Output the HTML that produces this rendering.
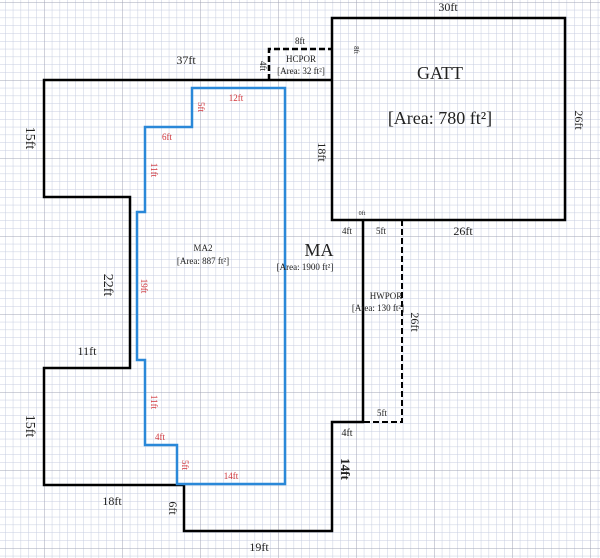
<!DOCTYPE html>
<html><head><style>
html,body{margin:0;padding:0;background:#fff;}
svg{display:block;font-family:"Liberation Serif",serif;}
</style></head><body>
<svg width="600" height="558" viewBox="0 0 600 558" xmlns="http://www.w3.org/2000/svg">
<defs>
<pattern id="mi" x="5" y="2" width="7.8" height="7.8" patternUnits="userSpaceOnUse">
<path d="M0 0H7.8M0 0V7.8" stroke="#c6cde0" stroke-width="1" fill="none"/>
</pattern>
<pattern id="ma" x="44" y="2" width="78" height="78" patternUnits="userSpaceOnUse">
<path d="M0 0H78M0 0V78" stroke="#a2a4b6" stroke-width="1" fill="none"/>
</pattern>
</defs>
<rect width="600" height="558" fill="#fff"/>
<rect width="600" height="558" fill="url(#mi)"/>
<rect width="600" height="558" fill="url(#ma)"/>

<path d="M333 80H44V197H130V368H44V485H184V531H332V422H363V220" fill="none" stroke="#000" stroke-width="2.5"/>
<rect x="332" y="18" width="233" height="202" fill="none" stroke="#000" stroke-width="2.5"/>
<path d="M269 80V49H332" fill="none" stroke="#000" stroke-width="2.5" stroke-dasharray="6,3"/>
<path d="M402 220V422H363" fill="none" stroke="#000" stroke-width="2" stroke-dasharray="6,3"/>
<path d="M192 88H285V484H177V445H145V360H137V212H145V127H192Z" fill="none" stroke="#2a88d8" stroke-width="2.5"/>

<g fill="#222" text-anchor="middle">
<text x="186" y="64" font-size="12">37ft</text>
<text x="300" y="44" font-size="9">8ft</text>
<text x="260" y="66" font-size="9" transform="rotate(90 260 66)">4ft</text>
<text x="301" y="62" font-size="9">HCPOR</text>
<text x="301" y="74" font-size="9">[Area: 32 ft²]</text>
<text x="448" y="11" font-size="12">30ft</text>
<text x="354" y="50" font-size="7" transform="rotate(90 354 50)">8ft</text>
<text x="440" y="79" font-size="18">GATT</text>
<text x="440" y="124" font-size="18">[Area: 780 ft²]</text>
<text x="575" y="120" font-size="12" transform="rotate(90 575 120)">26ft</text>
<text x="318" y="152" font-size="12" transform="rotate(90 318 152)">18ft</text>
<text x="362" y="215" font-size="6">0ft</text>
<text x="347" y="234" font-size="9">4ft</text>
<text x="381" y="234" font-size="9">5ft</text>
<text x="463" y="235" font-size="12">26ft</text>
<text x="319" y="256" font-size="18">MA</text>
<text x="305" y="270" font-size="9">[Area: 1900 ft²]</text>
<text x="386" y="299" font-size="9">HWPOR</text>
<text x="378" y="311" font-size="9">[Area: 130 ft²]</text>
<text x="411" y="322" font-size="12" transform="rotate(90 411 322)">26ft</text>
<text x="382" y="416" font-size="9">5ft</text>
<text x="347" y="436" font-size="10">4ft</text>
<text x="341" y="469" font-size="13" font-weight="bold" transform="rotate(90 341 469)">14ft</text>
<text x="259" y="551" font-size="12">19ft</text>
<text x="169" y="508" font-size="12" transform="rotate(90 169 508)">6ft</text>
<text x="112" y="505" font-size="12">18ft</text>
<text x="26" y="426" font-size="14" transform="rotate(90 26 426)">15ft</text>
<text x="87" y="355" font-size="12">11ft</text>
<text x="104" y="285" font-size="14" transform="rotate(90 104 285)">22ft</text>
<text x="26" y="138" font-size="14" transform="rotate(90 26 138)">15ft</text>
<text x="203" y="251" font-size="9">MA2</text>
<text x="203" y="264" font-size="9">[Area: 887 ft²]</text>
</g>
<g fill="#d0343a" font-size="9" text-anchor="middle">
<text x="236" y="101">12ft</text>
<text x="198" y="107" transform="rotate(90 198 107)">5ft</text>
<text x="167" y="140">6ft</text>
<text x="151" y="170" transform="rotate(90 151 170)">11ft</text>
<text x="141" y="286" transform="rotate(90 141 286)">19ft</text>
<text x="151" y="402" transform="rotate(90 151 402)">11ft</text>
<text x="160" y="440">4ft</text>
<text x="182" y="465" transform="rotate(90 182 465)">5ft</text>
<text x="231" y="479">14ft</text>
</g>
</svg>
</body></html>
